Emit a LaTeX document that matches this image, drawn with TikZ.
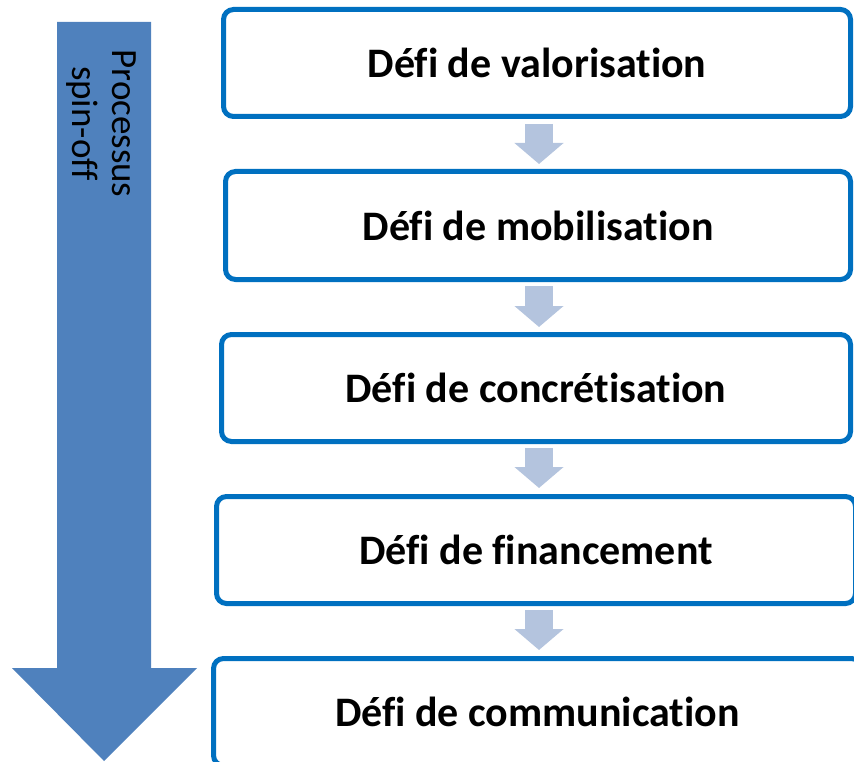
\documentclass[tikz,border=0pt]{standalone}
\usepackage{fontspec}
\setmainfont{Carlito}[RawFeature=-liga]
\usetikzlibrary{arrows.meta,calc}
\definecolor{bigblue}{HTML}{4F81BD}
\definecolor{boxblue}{HTML}{0070C0}
\definecolor{paleblue}{HTML}{B4C4DE}
\tikzset{
  defibox/.style={draw=boxblue, line width=5pt, rounded corners=10pt, fill=white,
    inner sep=0pt, font=\fontsize{42}{48}\selectfont\bfseries, text=black},
  flowarrow/.style={draw=paleblue, line width=28pt, line cap=butt,
    -{Triangle[width=48pt,length=21pt]}},
}
\begin{document}
\begin{tikzpicture}[x=1pt,y=-1pt]
\useasboundingbox (0,0) rectangle (854,762);
\clip (0,0) rectangle (854,762);
% big process arrow
\fill[bigblue] (57,22) -- (151,22) -- (151,668) -- (197,668) -- (104,761) -- (12,668) -- (57,668) -- cycle;
\node[rotate=-90, align=center, font=\fontsize{37}{40}\selectfont, text=black] (proc) at (101,123.5) {Processus\\spin-off};
% boxes
\node[defibox, minimum width=627pt, minimum height=107pt] (b1) at (537,63) {Défi de valorisation};
\node[defibox, minimum width=625pt, minimum height=108pt] (b2) at (538,225.5) {Défi de mobilisation};
\node[defibox, minimum width=629pt, minimum height=107pt] (b3) at (536,388) {Défi de concrétisation};
\node[defibox, minimum width=639pt, minimum height=107pt] (b4) at (536,550) {Défi de financement};
\node[defibox, minimum width=648pt, minimum height=107pt] (b5) at (537.5,712) {Défi de communication};
% small arrows
\draw[flowarrow] ($(b1.south)+(2,5)$) -- ($(b1.south)+(2,45)$);
\draw[flowarrow] ($(b2.south)+(1,4)$) -- ($(b2.south)+(1,45)$);
\draw[flowarrow] ($(b3.south)+(3,4)$) -- ($(b3.south)+(3,44)$);
\draw[flowarrow] ($(b4.south)+(3,4)$) -- ($(b4.south)+(3,44)$);
\end{tikzpicture}
\end{document}
